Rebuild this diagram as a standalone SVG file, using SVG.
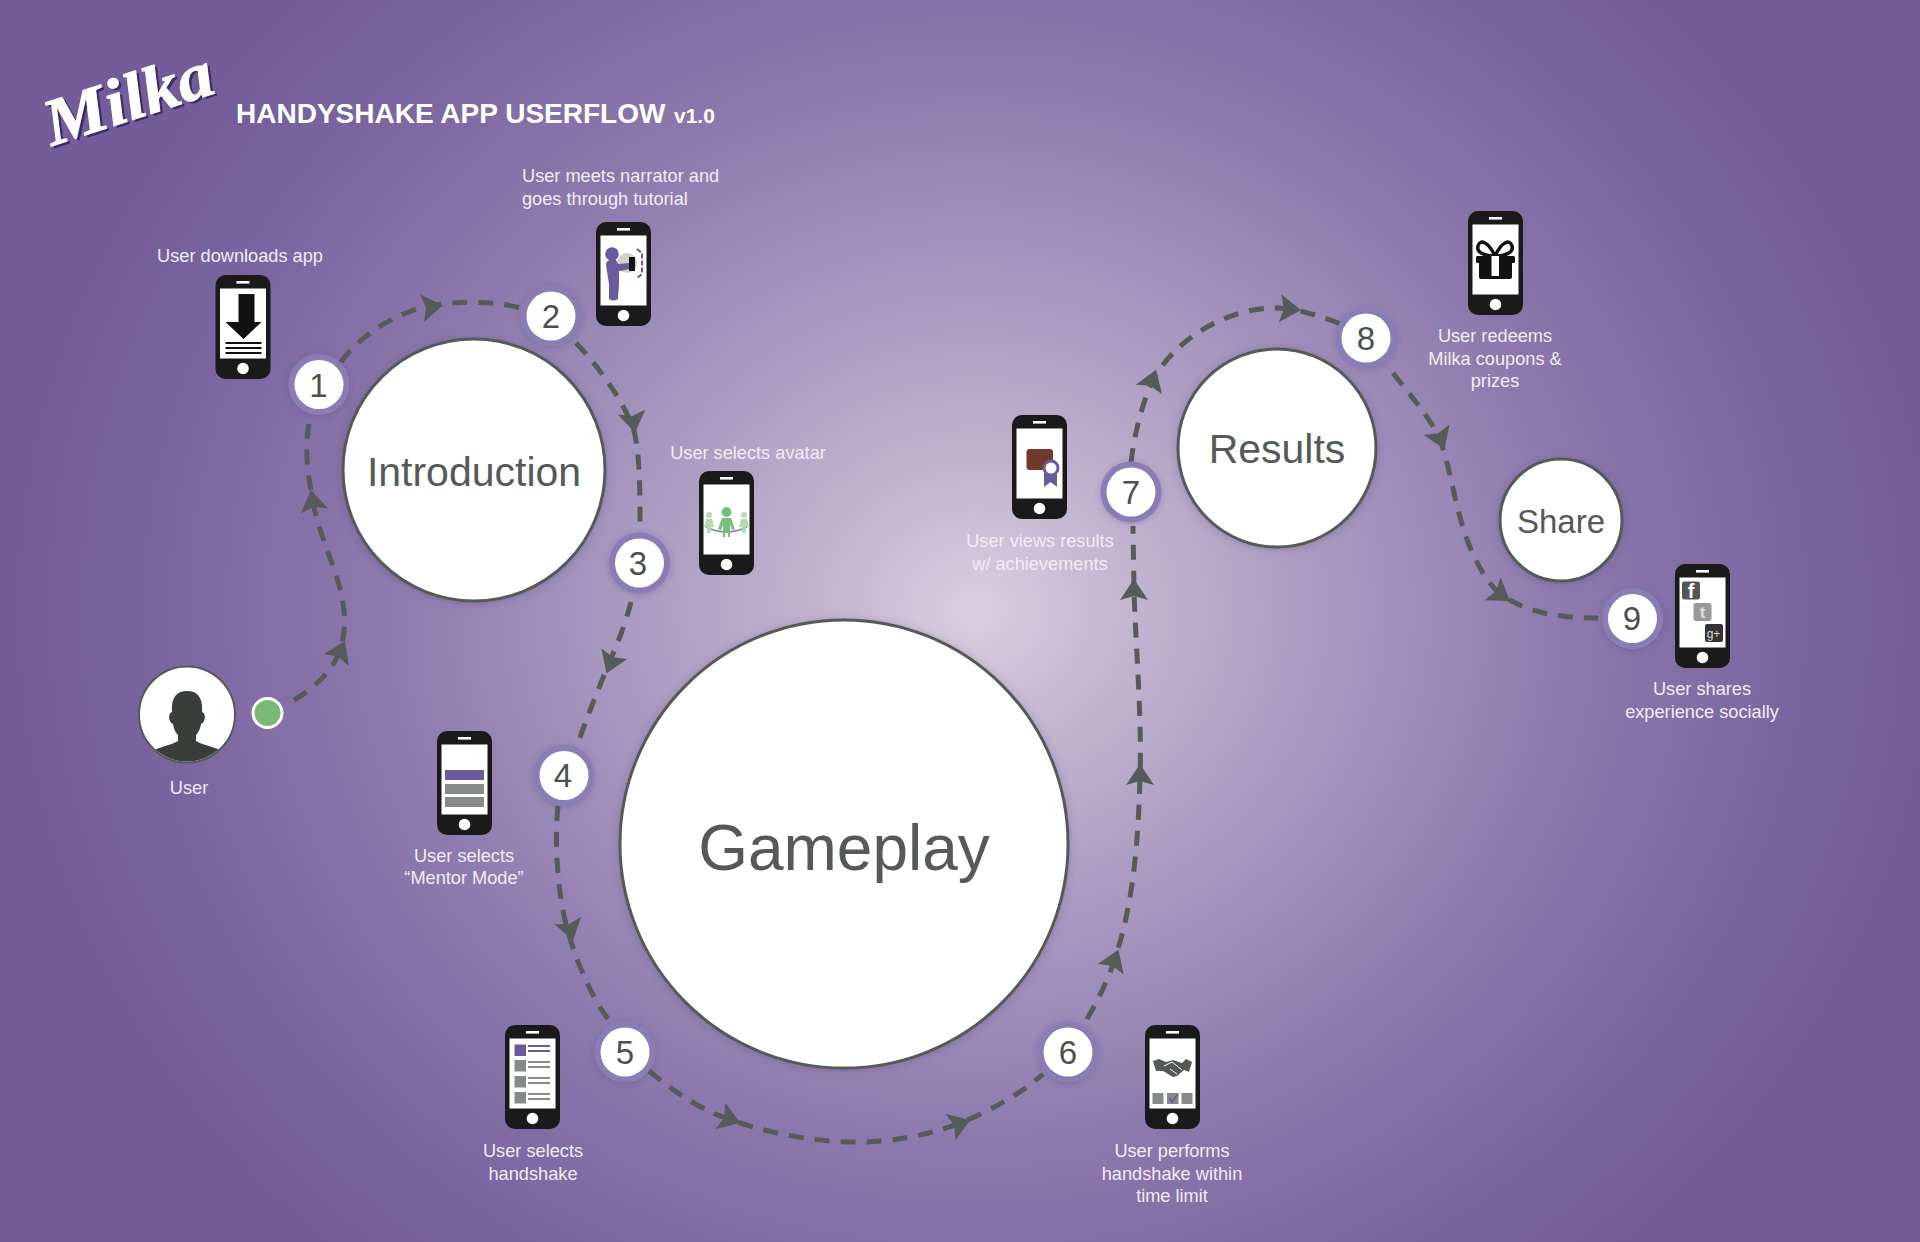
<svg xmlns="http://www.w3.org/2000/svg" width="1920" height="1242" viewBox="0 0 1920 1242">
<style>
text{font-family:"Liberation Sans",Arial,sans-serif}
.lb{font-size:18.2px;fill:#f1ecf5;text-anchor:middle}
.ll{font-size:18.2px;fill:#f1ecf5}
.big{fill:#555a58;text-anchor:middle}
.stage{fill:#fff;stroke:#555a58;stroke-width:3;filter:url(#soft)}
.ring{fill:#8a7db6;filter:url(#halo)}
.in{fill:#fff}
.num{font-size:33px;fill:#4c504e;text-anchor:middle}
.flow{fill:none;stroke:#555b58;stroke-width:5;stroke-dasharray:15 11}
.arrowhead{fill:#555b58}
.gy{fill:#868a88}
.pu{fill:#6a5a9e}
</style>
<defs>
<radialGradient id="bg" gradientUnits="userSpaceOnUse" cx="0" cy="0" r="1" gradientTransform="translate(975 610) scale(960 860)">
<stop offset="0" stop-color="#dccfe0"/>
<stop offset="0.14" stop-color="#c6b7d2"/>
<stop offset="0.35" stop-color="#ab9bc1"/>
<stop offset="0.62" stop-color="#8d79ad"/>
<stop offset="0.85" stop-color="#7b65a0"/>
<stop offset="1" stop-color="#735c99"/>
</radialGradient>
<filter id="soft" x="-20%" y="-20%" width="140%" height="140%"><feDropShadow dx="0" dy="1" stdDeviation="4" flood-color="#4a3a70" flood-opacity="0.3"/></filter>
<filter id="halo" x="-30%" y="-30%" width="160%" height="160%"><feDropShadow dx="0" dy="1" stdDeviation="3" flood-color="#4a3a70" flood-opacity="0.3"/></filter>
<clipPath id="userclip"><circle cx="187" cy="714.5" r="47"/></clipPath>
<g id="phone">
<rect width="55" height="104" rx="10" fill="#1a1a1a"/>
<rect x="21" y="6" width="13" height="2.6" fill="#fff"/>
<rect x="4.5" y="13.5" width="46" height="70" fill="#fff"/>
<circle cx="27.5" cy="93.5" r="5.8" fill="#fff"/>
</g>
<polygon id="arrow" class="arrowhead" points="12,0 -9,-14 -5,0 -9,14"/>
</defs>
<rect width="1920" height="1242" fill="url(#bg)"/>

<g id="connectors">
<path class="flow" d="M294 700C312 690 331 672 338 655C347 633 346 610 339 585C331 557 318 530 313 502C307 470 304 445 310 418"/>
<path class="flow" d="M341 362C352 345 390 312 431 306C455 301 500 300 526 310"/>
<path class="flow" d="M576 343C600 368 622 400 632 425C640 445 640 490 640 527"/>
<path class="flow" d="M631 602C625 625 617 645 609 663C598 690 585 722 576 749"/>
<path class="flow" d="M558 806C554 845 558 895 567 928C574 955 590 995 608 1019"/>
<path class="flow" d="M649 1071C675 1092 700 1110 729 1119C780 1138 840 1145 882 1141C915 1138 940 1130 959 1124C990 1110 1020 1095 1043 1074"/>
<path class="flow" d="M1087 1019C1098 1000 1108 980 1114 961C1130 915 1138 860 1140 776C1142 720 1136 650 1134 591L1133 526"/>
<path class="flow" d="M1131 463C1134 435 1142 405 1152 381C1170 350 1200 325 1240 313C1258 308 1275 307 1289 309C1305 311 1325 318 1341 324"/>
<path class="flow" d="M1393 373C1410 395 1428 415 1439 437C1452 470 1456 520 1474 556C1482 573 1490 585 1499 593C1525 612 1555 618 1598 618"/>
<use href="#arrow" transform="translate(340 652) rotate(-65)"/>
<use href="#arrow" transform="translate(313 502) rotate(-100)"/>
<use href="#arrow" transform="translate(431 307) rotate(-8)"/>
<use href="#arrow" transform="translate(633 421) rotate(80)"/>
<use href="#arrow" transform="translate(611 662) rotate(112)"/>
<use href="#arrow" transform="translate(570 929) rotate(75)"/>
<use href="#arrow" transform="translate(729 1119) rotate(20)"/>
<use href="#arrow" transform="translate(959 1124) rotate(-20)"/>
<use href="#arrow" transform="translate(1114 961) rotate(-68)"/>
<use href="#arrow" transform="translate(1140 776) rotate(-90)"/>
<use href="#arrow" transform="translate(1134 591) rotate(-90)"/>
<use href="#arrow" transform="translate(1152 381) rotate(-70)"/>
<use href="#arrow" transform="translate(1289 309) rotate(5)"/>
<use href="#arrow" transform="translate(1440 438) rotate(68)"/>
<use href="#arrow" transform="translate(1500 594) rotate(35)"/>
</g>

<g id="logo">
<text transform="translate(52 146) rotate(-18) scale(1.08 1)" font-size="66" font-weight="700" font-style="italic" fill="#3d2a66" style="font-family:'Liberation Serif',serif" dx="2" dy="3">Milka</text>
<text transform="translate(52 146) rotate(-18) scale(1.08 1)" font-size="66" font-weight="700" font-style="italic" fill="#fff" stroke="#fff" stroke-width="1" style="font-family:'Liberation Serif',serif">Milka</text>
</g>
<g id="title">
<text x="236" y="123" font-size="28" font-weight="700" fill="#fff">HANDYSHAKE APP USERFLOW</text>
<text x="674" y="123" font-size="21" font-weight="700" fill="#fff">v1.0</text>
</g>

<g id="user">
<circle cx="187" cy="714.5" r="48" fill="#fff" stroke="#555a58" stroke-width="2"/>
<path clip-path="url(#userclip)" fill="#3a3e3b" d="M187 691C198 691 203 698 202 712C206 713 206 722 201 724C200 730 198 733 196 735L196 741C205 746 216 747 224 752L224 770H150L150 752C158 747 169 746 178 741L178 735C176 733 174 730 173 724C168 722 168 713 172 712C171 698 176 691 187 691Z"/>
<text class="lb" x="189" y="794">User</text>
</g>
<g id="start"><circle cx="267.500" cy="713" r="14.500" fill="#7ab878" stroke="#fff" stroke-width="3"/></g>

<g id="introduction"><circle class="stage" cx="474" cy="470" r="131"/><text class="big" x="474" y="486" font-size="41">Introduction</text></g>
<g id="gameplay"><circle class="stage" cx="844" cy="844" r="224"/><text class="big" x="844" y="870" font-size="64">Gameplay</text></g>
<g id="results"><circle class="stage" cx="1277" cy="448" r="99"/><text class="big" x="1277" y="463" font-size="41">Results</text></g>
<g id="share"><circle class="stage" cx="1561" cy="520" r="61"/><text class="big" x="1561" y="533" font-size="33">Share</text></g>

<g id="step1"><circle class="ring" cx="319" cy="384.500" r="30.500"/><circle class="in" cx="319" cy="384.500" r="24.500"/><text class="num" x="318.500" y="396.500">1</text>
<use href="#phone" x="215.500" y="275"/>
<g transform="translate(215.500 275)"><polygon points="23,19 39,19 39,47 46,47 28,64 10,47 23,47" fill="#111"/><rect x="10" y="67" width="36" height="2" fill="#111"/><rect x="10" y="72" width="36" height="2" fill="#111"/><rect x="10" y="77" width="36" height="2" fill="#111"/></g>
<text class="lb" x="240" y="262">User downloads app</text></g>

<g id="step2"><circle class="ring" cx="551" cy="316" r="30.500"/><circle class="in" cx="551" cy="316" r="24.500"/><text class="num" x="551" y="328">2</text>
<use href="#phone" x="596" y="222"/>
<g transform="translate(596 222)"><circle cx="31" cy="41" r="10" fill="#d0d0d0"/><circle cx="16" cy="32" r="6.800" class="pu"/><path class="pu" d="M10 43Q10 38 15 38H20L22 42L34 41V47L23 49V62L22 77Q17 80 13 77L13 62Z"/><rect x="33" y="35" width="6" height="14" fill="#111"/><path d="M41 27L46 31V52L41 56" fill="none" stroke="#6a5a9e" stroke-width="2" stroke-dasharray="5 2"/></g>
<text class="ll" x="522" y="182">User meets narrator and</text><text class="ll" x="522" y="205">goes through tutorial</text></g>

<g id="step3"><circle class="ring" cx="639.500" cy="563" r="30.500"/><circle class="in" cx="639.500" cy="563" r="24.500"/><text class="num" x="638" y="575">3</text>
<use href="#phone" x="699" y="471"/>
<g transform="translate(699 471)"><path d="M7 56Q27 66 48 56" fill="none" stroke="#8a7db6" stroke-width="1.500"/><g fill="#b5dcb0"><circle cx="10" cy="44" r="3"/><path d="M7 48H13L15 56H12V62H8V56H5Z"/><circle cx="45" cy="44" r="3"/><path d="M42 48H48L50 56H47V62H43V56H40Z"/></g><g fill="#78bf78"><circle cx="27.500" cy="41" r="5"/><path d="M23 47H32L36 58L33 59L31 54V66H29V60H26V66H24V54L22 59L19 58Z"/></g></g>
<text class="lb" x="748" y="459">User selects avatar</text></g>

<g id="step4"><circle class="ring" cx="564" cy="775.500" r="30.500"/><circle class="in" cx="564" cy="775.500" r="24.500"/><text class="num" x="563" y="787">4</text>
<use href="#phone" x="437" y="731"/>
<g transform="translate(437 731)"><rect class="pu" x="8" y="39" width="39" height="10"/><rect class="gy" x="8" y="53" width="39" height="10"/><rect class="gy" x="8" y="66" width="39" height="10"/></g>
<text class="lb" x="464" y="862">User selects</text><text class="lb" x="464" y="884">“Mentor Mode”</text></g>

<g id="step5"><circle class="ring" cx="625" cy="1052" r="30.500"/><circle class="in" cx="625" cy="1052" r="24.500"/><text class="num" x="625" y="1064">5</text>
<use href="#phone" x="505" y="1025"/>
<g transform="translate(505 1025)"><rect class="pu" x="9.500" y="19.500" width="11.500" height="11.500"/><rect class="gy" x="9.500" y="35" width="11.500" height="11.500"/><rect class="gy" x="9.500" y="51" width="11.500" height="11.500"/><rect class="gy" x="9.500" y="67" width="11.500" height="11.500"/><rect class="pu" x="23" y="20" width="22" height="2"/><rect class="pu" x="23" y="25" width="22" height="2"/><rect class="gy" x="23" y="36" width="22" height="2"/><rect class="gy" x="23" y="41" width="22" height="2"/><rect class="gy" x="23" y="52" width="22" height="2"/><rect class="gy" x="23" y="57" width="22" height="2"/><rect class="gy" x="23" y="68" width="22" height="2"/><rect class="gy" x="23" y="73" width="22" height="2"/></g>
<text class="lb" x="533" y="1157">User selects</text><text class="lb" x="533" y="1180">handshake</text></g>

<g id="step6"><circle class="ring" cx="1068" cy="1052" r="30.500"/><circle class="in" cx="1068" cy="1052" r="24.500"/><text class="num" x="1068" y="1064">6</text>
<use href="#phone" x="1145" y="1025"/>
<g transform="translate(1145 1025)"><path fill="#555a58" d="M8 36L14 34L21 37L28 35L37 38L41 34L47 37L44 47L39 45L32 51L28 52L18 46L11 46Z"/><path d="M19 41L27 37L37 45M25 44L32 49" fill="none" stroke="#fff" stroke-width="1"/><rect class="gy" x="7.500" y="68" width="11" height="11"/><rect class="gy" x="22" y="68" width="11.500" height="11"/><rect class="gy" x="36.500" y="68" width="11" height="11"/><path d="M24 73L27 77L33 69" fill="none" stroke="#6a5a9e" stroke-width="1.500"/></g>
<text class="lb" x="1172" y="1157">User performs</text><text class="lb" x="1172" y="1180">handshake within</text><text class="lb" x="1172" y="1202">time limit</text></g>

<g id="step7"><circle class="ring" cx="1131" cy="492" r="30.500"/><circle class="in" cx="1131" cy="492" r="24.500"/><text class="num" x="1131" y="504">7</text>
<use href="#phone" x="1012" y="415"/>
<g transform="translate(1012 415)"><rect x="14.500" y="34" width="26.500" height="21" rx="3" fill="#6f3a2c"/><polygon class="pu" points="32,58 45,58 45,72 38.500,67 32,72"/><circle cx="39" cy="53" r="7" fill="#fff" stroke="#6a5a9e" stroke-width="3"/></g>
<text class="lb" x="1040" y="547">User views results</text><text class="lb" x="1040" y="570">w/ achievements</text></g>

<g id="step8"><circle class="ring" cx="1366" cy="338" r="30.500"/><circle class="in" cx="1366" cy="338" r="24.500"/><text class="num" x="1366" y="350">8</text>
<use href="#phone" x="1468" y="211"/>
<g transform="translate(1468 211)"><path d="M27 45C20 30 12 28 10 35C8 42 18 45 27 45C36 45 46 42 44 35C42 28 34 30 27 45Z" fill="none" stroke="#111" stroke-width="3.500"/><rect x="8" y="45" width="39" height="7" rx="1.500" fill="#111"/><path d="M11 52H44V66Q44 68 42 68H13Q11 68 11 66Z" fill="#111"/><rect x="23.500" y="45" width="7.500" height="20" fill="#fff"/></g>
<text class="lb" x="1495" y="342">User redeems</text><text class="lb" x="1495" y="365">Milka coupons &amp;</text><text class="lb" x="1495" y="387">prizes</text></g>

<g id="step9"><circle class="ring" cx="1632.500" cy="618.500" r="30.500"/><circle class="in" cx="1632.500" cy="618.500" r="24.500"/><text class="num" x="1632" y="630">9</text>
<use href="#phone" x="1675" y="564"/>
<g transform="translate(1675 564)"><rect x="7" y="17.500" width="18" height="18" rx="2.500" fill="#555"/><text x="16" y="34" font-size="20" font-weight="700" fill="#fff" text-anchor="middle">f</text><rect x="18.500" y="39" width="18" height="18" rx="2.500" fill="#999"/><text x="27.500" y="54" font-size="17" font-weight="700" fill="#ddd" text-anchor="middle">t</text><rect x="30" y="60" width="18" height="18" rx="2" fill="#333"/><text x="38.500" y="74" font-size="12" fill="#ddd" text-anchor="middle">g+</text></g>
<text class="lb" x="1702" y="695">User shares</text><text class="lb" x="1702" y="718">experience socially</text></g>
</svg>
